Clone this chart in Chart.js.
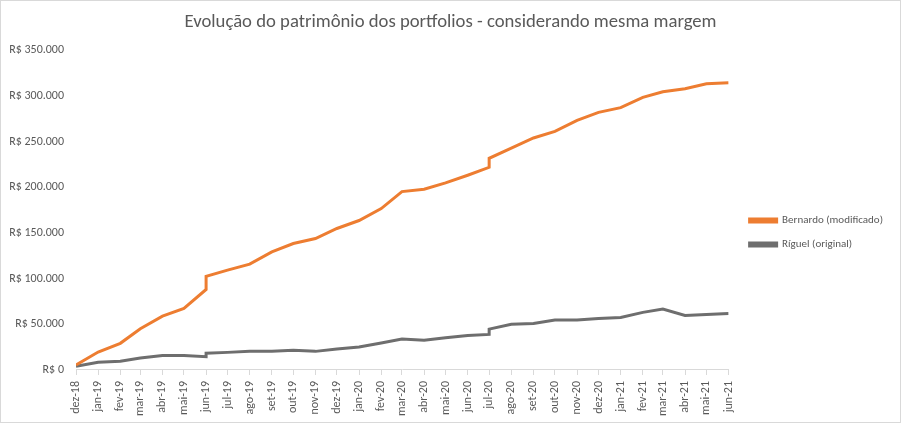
<!DOCTYPE html>
<html>
<head>
<meta charset="utf-8">
<script src="https://cdn.jsdelivr.net/npm/chart.js@4"></script>
<style>
  html, body { margin: 0; padding: 0; background: #fff; }
  #wrap { width: 901px; height: 423px; box-sizing: border-box; border: 1px solid #d9d9d9; }
  canvas { display: block; }
</style>
</head>
<body>
<div id="wrap"><canvas id="chart" width="899" height="421"></canvas></div>
<script>
// Month of each data point (two entries where a contribution jump happened)
const pointMonths = [
    '2018-12', '2019-01', '2019-02', '2019-03', '2019-04', '2019-05', '2019-06', '2019-06',
    '2019-07', '2019-08', '2019-09', '2019-10', '2019-11', '2019-12', '2020-01', '2020-02',
    '2020-03', '2020-04', '2020-05', '2020-06', '2020-07', '2020-07', '2020-08', '2020-09',
    '2020-10', '2020-11', '2020-12', '2021-01', '2021-02', '2021-03', '2021-04', '2021-05',
    '2021-06'
];

const bernardo = [
    5500, 19700, 29200, 45200, 59000, 67500, 88200, 102500,
    109400, 116000, 129400, 138500, 144000, 155000, 163700, 176800,
    195400, 198000, 204900, 213300, 222000, 231900, 243100, 254100,
    261400, 273400, 282200, 287300, 298600, 304800, 308100, 313600,
    314700
];

const riguel = [
    4000, 8400, 9500, 13100, 16000, 16000, 14600, 18300,
    19300, 20400, 20400, 21500, 20400, 23000, 25200, 29500,
    33900, 32500, 35300, 37900, 39000, 44800, 50000, 51000,
    54700, 54700, 56500, 57600, 63100, 66700, 59800, 60900,
    62000
];

const tickMonths = [
    '2018-12', '2019-01', '2019-02', '2019-03', '2019-04', '2019-05', '2019-06', '2019-07',
    '2019-08', '2019-09', '2019-10', '2019-11', '2019-12', '2020-01', '2020-02', '2020-03',
    '2020-04', '2020-05', '2020-06', '2020-07', '2020-08', '2020-09', '2020-10', '2020-11',
    '2020-12', '2021-01', '2021-02', '2021-03', '2021-04', '2021-05', '2021-06'
];

const tickLabels = [
    'dez-18', 'jan-19', 'fev-19', 'mar-19', 'abr-19', 'mai-19', 'jun-19', 'jul-19',
    'ago-19', 'set-19', 'out-19', 'nov-19', 'dez-19', 'jan-20', 'fev-20', 'mar-20',
    'abr-20', 'mai-20', 'jun-20', 'jul-20', 'ago-20', 'set-20', 'out-20', 'nov-20',
    'dez-20', 'jan-21', 'fev-21', 'mar-21', 'abr-21', 'mai-21', 'jun-21'
];

// days since the first month, so the axis spacing follows the calendar like Excel's date axis
function dayOffset(ym) {
    const [y, m] = ym.split('-').map(Number);
    return (Date.UTC(y, m - 1, 1) - Date.UTC(2018, 11, 1)) / 86400000;
}

const tickDays = tickMonths.map(dayOffset);
const toPoints = values => values.map((v, i) => ({ x: dayOffset(pointMonths[i]), y: v }));

const FONT = "Carlito, 'Liberation Sans', sans-serif";
const TEXT = '#595959';

// Excel centres the title on the whole chart and leaves a wider gap before the legend
const excelLayout = {
    id: 'excelLayout',
    afterLayout(chart) {
        const lg = chart.legend;
        lg.left += 8;
        lg.right += 8;
        lg.top += 19;
        lg.bottom += 19;
        if (chart.titleBlock) {
            chart.titleBlock.left = 0;
            chart.titleBlock.right = chart.width;
        }
    }
};

new Chart(document.getElementById('chart'), {
    type: 'line',
    data: {
        datasets: [
            {
                label: 'Bernardo (modificado)',
                data: toPoints(bernardo),
                borderColor: '#ed7d31',
                backgroundColor: '#ed7d31',
                borderWidth: 3,
                pointRadius: 0,
                tension: 0
            },
            {
                label: 'Ríguel (original)',
                data: toPoints(riguel),
                borderColor: '#6e6e6e',
                backgroundColor: '#6e6e6e',
                borderWidth: 3,
                pointRadius: 0,
                tension: 0
            }
        ]
    },
    plugins: [excelLayout],
    options: {
        responsive: false,
        animation: false,
        layout: { padding: { left: 0, right: 15, top: 4, bottom: 0 } },
        plugins: {
            title: {
                display: true,
                text: 'Evolução do patrimônio dos portfolios - considerando mesma margem',
                color: TEXT,
                font: { family: FONT, size: 18.7, weight: 'normal' },
                padding: { top: 6, bottom: 17 }
            },
            legend: {
                position: 'right',
                labels: {
                    color: TEXT,
                    font: { family: FONT, size: 11 },
                    boxWidth: 27,
                    boxHeight: 3,
                    padding: 13
                }
            },
            tooltip: { enabled: false }
        },
        scales: {
            x: {
                type: 'linear',
                min: 0,
                max: tickDays[tickDays.length - 1],
                afterBuildTicks: axis => {
                    axis.ticks = tickDays.map(v => ({ value: v }));
                },
                ticks: {
                    autoSkip: false,
                    minRotation: 90,
                    maxRotation: 90,
                    color: TEXT,
                    font: { family: FONT, size: 12 },
                    padding: 6,
                    callback: function (value) {
                        const i = tickDays.indexOf(value);
                        return i >= 0 ? tickLabels[i] : '';
                    }
                },
                grid: {
                    drawOnChartArea: false,
                    color: '#d9d9d9',
                    tickLength: 5
                },
                border: { color: '#d9d9d9' }
            },
            y: {
                min: 0,
                max: 350000,
                afterFit: axis => { axis.width = 75; },
                ticks: {
                    stepSize: 50000,
                    color: TEXT,
                    font: { family: FONT, size: 12 },
                    padding: 12,
                    callback: v => 'R$ ' + v.toLocaleString('pt-BR')
                },
                grid: { display: false, drawTicks: false },
                border: { display: false }
            }
        }
    }
});
</script>
</body>
</html>
